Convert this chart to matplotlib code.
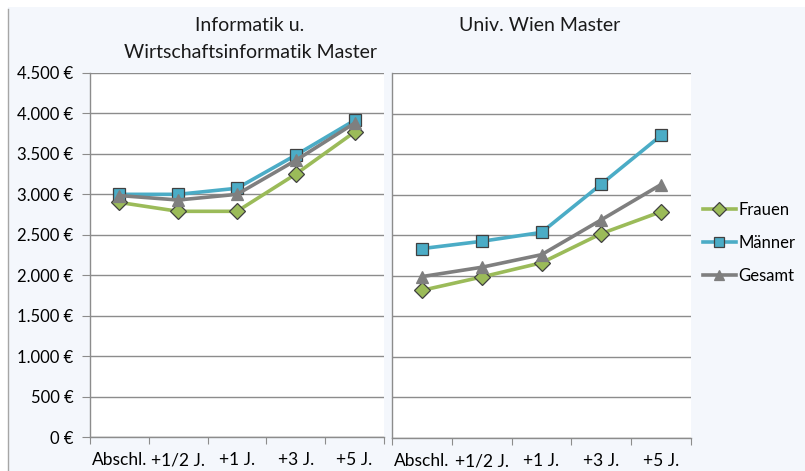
import matplotlib
matplotlib.use("Agg")
import matplotlib.pyplot as plt
from matplotlib.patches import Rectangle
from matplotlib.lines import Line2D
from matplotlib.ticker import FuncFormatter, MultipleLocator

categories = ["Abschl.", "+1/2 J.", "+1 J.", "+3 J.", "+5 J."]
titles = ["Informatik u.\nWirtschaftsinformatik Master", "Univ. Wien Master"]
series_names = ["Frauen", "Männer", "Gesamt"]

inf_frauen = [2900, 2790, 2790, 3250, 3770]
inf_maenner = [3000, 3000, 3075, 3485, 3915]
inf_gesamt = [2985, 2930, 3000, 3420, 3880]

uni_frauen = [1820, 1985, 2160, 2520, 2790]
uni_maenner = [2335, 2425, 2535, 3130, 3730]
uni_gesamt = [1990, 2105, 2260, 2690, 3125]

colors = ["#9BBB59", "#4BACC6", "#7F7F7F"]
markers = ["D", "s", "^"]
msizes = [8, 8.5, 8.5]

plt.rcParams["font.family"] = ["Lato", "DejaVu Sans"]

fig = plt.figure(figsize=(8.05, 4.71), dpi=100)
fig.patch.set_facecolor("white")
W, H = 805, 471
fig.patches.append(Rectangle((8 / W, 0), 1 - 8 / W, (H - 7) / H, transform=fig.transFigure,
                             facecolor="#F4F7FC", edgecolor="none", zorder=-10))
fig.lines.append(Line2D([7.5 / W, 7.5 / W], [0, (H - 9) / H], transform=fig.transFigure,
                        color="#A6A6A6", lw=1, zorder=-9))

def px(x0, y0, x1, y1):
    return [x0 / W, 1 - y1 / H, (x1 - x0) / W, (y1 - y0) / H]

ax1 = fig.add_axes(px(90, 73, 384, 437))
ax2 = fig.add_axes(px(392, 73, 691, 438))

data = [
    (inf_frauen, inf_maenner, inf_gesamt),
    (uni_frauen, uni_maenner, uni_gesamt),
]

fmt = FuncFormatter(lambda v, p: ("{:,.0f}".format(v)).replace(",", ".") + " €")

title_x = [250, 540]
for i, ax in enumerate([ax1, ax2]):
    ax.set_facecolor("white")
    x = list(range(len(categories)))
    for s, vals in enumerate(data[i]):
        ax.plot(x, vals, color=colors[s], lw=2.6, marker=markers[s], markersize=msizes[s],
                markerfacecolor=colors[s], markeredgecolor="#404040" if s < 2 else colors[s],
                markeredgewidth=0.9, label=series_names[s], zorder=3, clip_on=False)
    ax.set_xlim(-0.5, 4.5)
    ax.set_ylim(0, 4500)
    ax.yaxis.set_major_locator(MultipleLocator(500))
    ax.grid(axis="y", color="#8C8C8C", lw=1)
    ax.set_axisbelow(True)
    for sp in ["top", "right"]:
        ax.spines[sp].set_visible(False)
    for sp in ["left", "bottom"]:
        ax.spines[sp].set_color("#8C8C8C")
        ax.spines[sp].set_linewidth(1)
    ax.set_xticks([i2 + 0.5 for i2 in range(-1, 5)])
    ax.set_xticklabels([])
    ax.set_xticks(x, minor=True)
    ax.set_xticklabels(categories, minor=True, fontsize=12.5)
    ax.tick_params(axis="x", which="minor", length=0, pad=11)
    ax.tick_params(axis="x", which="major", length=5, color="#8C8C8C")
    fig.text(title_x[i] / W, 1 - 17 / H, titles[i], ha="center", va="top",
             fontsize=14, color="#1a1a1a", linespacing=1.75)
    if i == 0:
        ax.yaxis.set_major_formatter(fmt)
        ax.tick_params(axis="y", length=6, color="#8C8C8C", labelsize=12, pad=6)
    else:
        ax.tick_params(axis="y", length=0, labelleft=False)

handles, labels = ax2.get_legend_handles_labels()
fig.legend(handles, labels, loc="center left", bbox_to_anchor=(696 / W, 1 - 243 / H),
           frameon=False, fontsize=12, handlelength=2.0, handletextpad=0.15,
           labelspacing=1.0, borderaxespad=0, markerscale=0.85)

fig.savefig("out.png", dpi=100, facecolor=fig.get_facecolor())
